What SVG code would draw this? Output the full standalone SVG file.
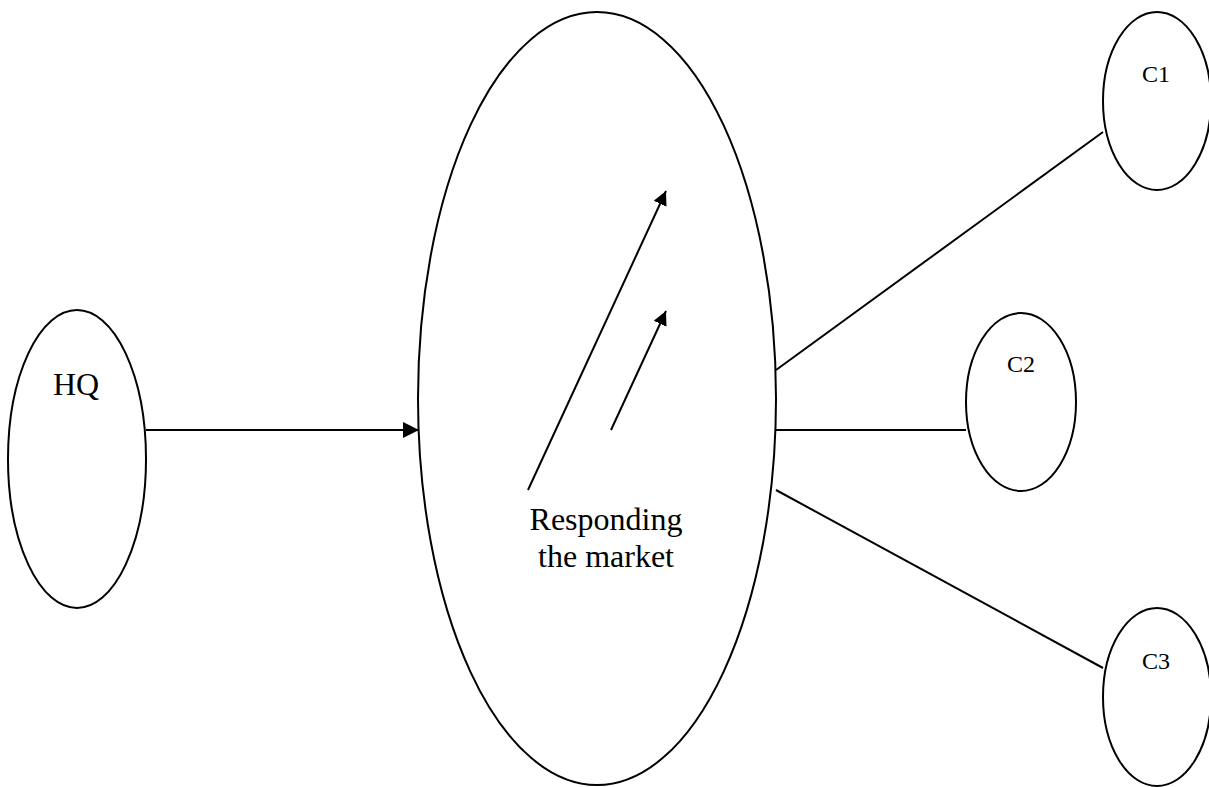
<svg xmlns="http://www.w3.org/2000/svg" width="1209" height="787" viewBox="0 0 1209 787">
<style>
.node{fill:#fff;stroke:#000;stroke-width:2}
.lbl{font-family:"Liberation Serif","Times New Roman",serif;fill:#000;text-anchor:middle}
.big{font-size:32px}
.small{font-size:24px}
.conn{stroke:#000;stroke-width:2;fill:none}
</style>
<defs>
<marker id="arr" viewBox="0 0 10 10" refX="10" refY="5" markerWidth="8" markerHeight="8" markerUnits="userSpaceOnUse" orient="auto">
<path d="M0,0 L10,5 L0,10 z" fill="#000"/>
</marker>
<marker id="arrL" viewBox="0 0 16 16" refX="16" refY="8" markerWidth="16" markerHeight="16" markerUnits="userSpaceOnUse" orient="auto">
<path d="M0,0 L16,8 L0,16 z" fill="#000"/>
</marker>
<marker id="arrM" viewBox="0 0 14 14" refX="14" refY="7" markerWidth="14" markerHeight="14" markerUnits="userSpaceOnUse" orient="auto">
<path d="M0,0 L14,7 L0,14 z" fill="#000"/>
</marker>
</defs>
<rect width="1209" height="787" fill="#fff"/>
<g id="hq">
<ellipse class="node" cx="77" cy="459" rx="69" ry="149"/>
<text class="lbl big" x="76" y="395">HQ</text>
</g>
<g id="market">
<ellipse class="node" cx="597" cy="398.5" rx="179" ry="386.5"/>
<text class="lbl big" x="606" y="530">Responding</text>
<text class="lbl big" x="606" y="567">the market</text>
</g>
<g id="c1">
<ellipse class="node" cx="1157" cy="101" rx="54" ry="89"/>
<text class="lbl small" x="1156" y="82">C1</text>
</g>
<g id="c2">
<ellipse class="node" cx="1021" cy="402" rx="55" ry="89"/>
<text class="lbl small" x="1021" y="372">C2</text>
</g>
<g id="c3">
<ellipse class="node" cx="1157" cy="697" rx="54" ry="89"/>
<text class="lbl small" x="1156" y="669">C3</text>
</g>
<g id="connectors">
<line class="conn" x1="146" y1="430" x2="419" y2="430" marker-end="url(#arrL)"/>
<line class="conn" x1="528" y1="490" x2="666" y2="191" marker-end="url(#arrM)"/>
<line class="conn" x1="611" y1="430" x2="666" y2="311" marker-end="url(#arrM)"/>
<line class="conn" x1="776" y1="370" x2="1103" y2="132"/>
<line class="conn" x1="776" y1="430" x2="966" y2="430"/>
<line class="conn" x1="776" y1="490" x2="1103" y2="668"/>
</g>
</svg>
